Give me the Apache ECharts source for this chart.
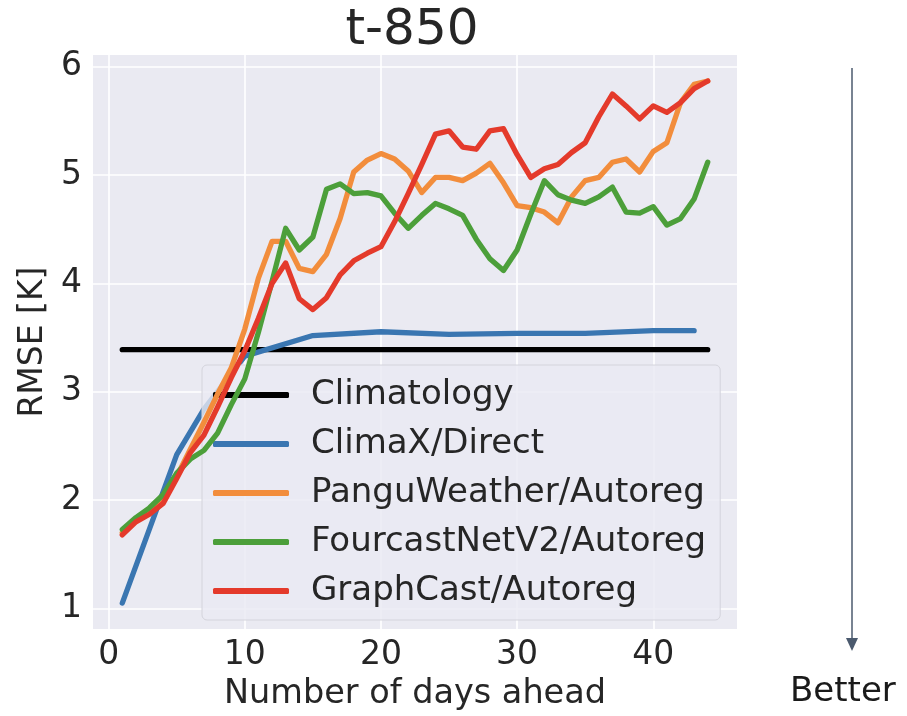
<!DOCTYPE html>
<html>
<head>
<meta charset="utf-8">
<script src="https://cdn.jsdelivr.net/npm/echarts@6/dist/echarts.min.js"></script>
<style>html,body{margin:0;padding:0;background:#fff;}#c{width:907px;height:716px;}</style>
</head>
<body>
<div id="c"></div>
<script>
// ---- data ----
const days = [1,2,3,4,5,6,7,8,9,10,11,12,13,14,15,16,17,18,19,20,21,22,23,24,25,26,27,28,29,30,31,32,33,34,35,36,37,38,39,40,41,42,43,44];
const climatologyDays = [1, 44];
const climatology = [3.39, 3.39];
const climaxDays = [1,5,7,10,15,20,25,30,35,40,43];
const climax = [1.05,2.42,2.84,3.33,3.52,3.555,3.53,3.54,3.54,3.565,3.565];
const pangu = [1.70,1.82,1.90,2.02,2.22,2.47,2.72,2.98,3.22,3.58,4.05,4.39,4.39,4.14,4.11,4.27,4.60,5.03,5.14,5.20,5.15,5.04,4.84,4.98,4.98,4.95,5.02,5.11,4.93,4.72,4.70,4.66,4.56,4.80,4.95,4.98,5.12,5.15,5.03,5.22,5.30,5.67,5.84,5.87];
const fourcast = [1.73,1.84,1.93,2.05,2.25,2.38,2.46,2.62,2.88,3.12,3.55,4.02,4.51,4.31,4.43,4.87,4.92,4.83,4.84,4.81,4.65,4.51,4.63,4.74,4.69,4.63,4.41,4.23,4.12,4.31,4.64,4.95,4.82,4.77,4.74,4.80,4.89,4.66,4.65,4.71,4.54,4.60,4.78,5.12];
const graphcast = [1.68,1.80,1.87,1.97,2.20,2.44,2.60,2.86,3.13,3.38,3.68,4.00,4.19,3.86,3.76,3.87,4.08,4.21,4.28,4.34,4.57,4.83,5.10,5.38,5.41,5.26,5.24,5.41,5.43,5.19,4.98,5.06,5.10,5.21,5.30,5.54,5.75,5.64,5.52,5.64,5.58,5.67,5.80,5.87];
const xTicks = [0,10,20,30,40];
const yTicks = [1,2,3,4,5,6];
const names = ['Climatology','ClimaX/Direct','PanguWeather/Autoreg','FourcastNetV2/Autoreg','GraphCast/Autoreg'];
const colors = ['#000000','#3a76b1','#f28d3c','#4c9f3a','#e43a2b'];

const zip = (xs, ys) => xs.map((x, i) => [x, ys[i]]);
const seriesData = [
  zip(climatologyDays, climatology),
  zip(climaxDays, climax),
  zip(days, pangu),
  zip(days, fourcast),
  zip(days, graphcast)
];

const txt = '#262626';
const font = 'DejaVu Sans';
const chart = echarts.init(document.getElementById('c'), null, {renderer: 'canvas'});
chart.setOption({
  animation: false,
  backgroundColor: '#ffffff',
  grid: {left: 93, right: 170, top: 55, bottom: 78, show: true, backgroundColor: '#eaeaf2', borderWidth: 0},
  xAxis: {
    type: 'value', min: -1.15, max: 46.15,
    name: 'Number of days ahead', nameLocation: 'middle', nameGap: 38,
    nameTextStyle: {fontFamily: font, fontSize: 33.5, color: txt},
    axisLine: {show: false},
    axisTick: {show: false, customValues: xTicks},
    axisLabel: {customValues: xTicks, margin: 10, fontFamily: font, fontSize: 33, color: txt},
    splitLine: {show: true, lineStyle: {color: '#ffffff', width: 1.6}}
  },
  yAxis: {
    type: 'value', min: 0.81, max: 6.11,
    name: 'RMSE [K]', nameLocation: 'middle', nameGap: 40,
    nameTextStyle: {fontFamily: font, fontSize: 33, color: txt},
    axisLine: {show: false},
    axisTick: {show: false, customValues: yTicks},
    axisLabel: {customValues: yTicks, margin: 11, fontFamily: font, fontSize: 33, color: txt},
    splitLine: {show: true, lineStyle: {color: '#ffffff', width: 1.6}}
  },
  legend: {
    orient: 'vertical', left: 202, top: 365,
    data: names,
    icon: 'roundRect', itemWidth: 76, itemHeight: 6, itemGap: 13,
    padding: [12, 14, 11, 11],
    backgroundColor: 'rgba(234,234,242,0.8)', borderColor: '#d4d4dc', borderWidth: 1, borderRadius: 5,
    textStyle: {fontFamily: font, fontSize: 34, color: txt, lineHeight: 36, padding: [0, 0, 0, 17]}
  },
  series: names.map((n, i) => ({
    name: n, type: 'line', data: seriesData[i],
    showSymbol: false, symbol: 'none', color: colors[i],
    lineStyle: {width: 5.3, color: colors[i], cap: 'round', join: 'round'},
    z: 2 + i
  })),
  graphic: [
    {type: 'text', x: 412, y: 31, style: {text: 't-850', fontFamily: font, fontSize: 50, fill: txt, align: 'center', verticalAlign: 'middle'}},
    {type: 'line', shape: {x1: 852, y1: 68, x2: 852, y2: 640}, style: {stroke: '#4b5a6e', lineWidth: 1.5}},
    {type: 'polygon', shape: {points: [[846, 638], [858, 638], [852, 651]]}, style: {fill: '#4b5a6e'}},
    {type: 'text', x: 790, y: 692, style: {text: 'Better', fontFamily: font, fontSize: 34, fill: '#1a1a1a', align: 'left', verticalAlign: 'middle'}}
  ]
});
</script>
</body>
</html>
